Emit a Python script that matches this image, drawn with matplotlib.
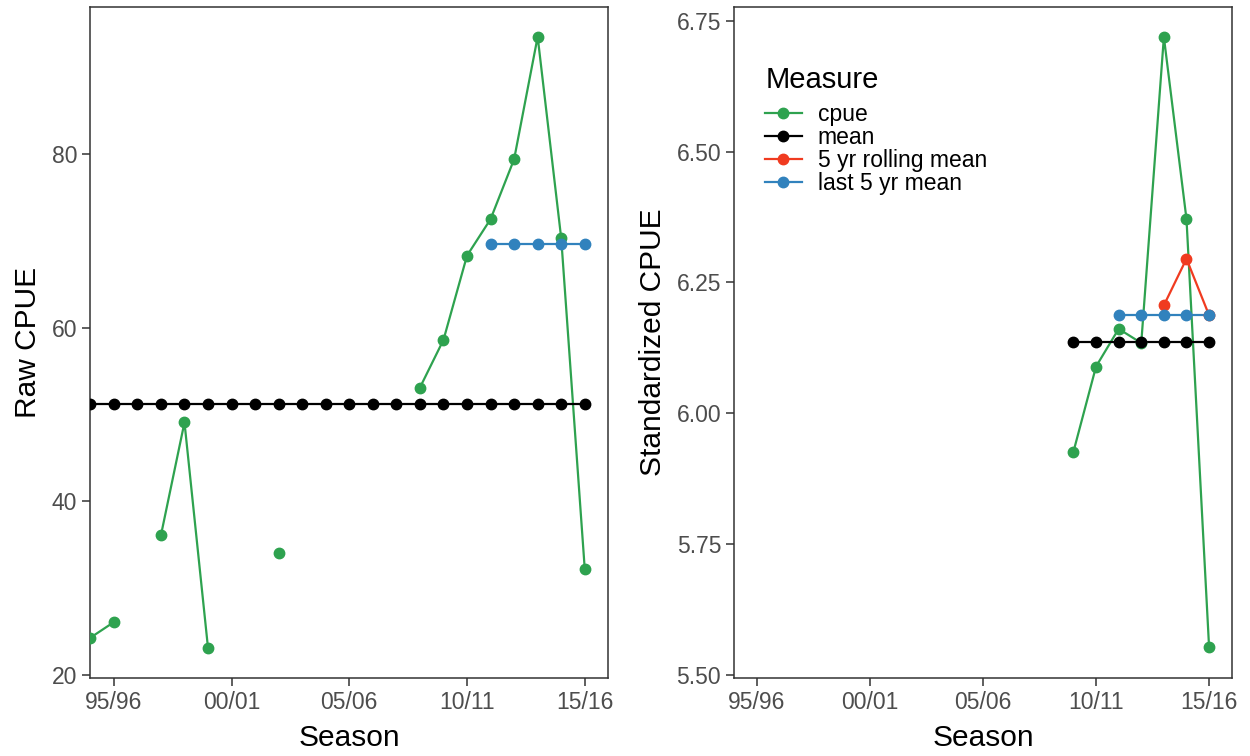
import numpy as np
import matplotlib
matplotlib.use("Agg")
import matplotlib.pyplot as plt
from matplotlib.lines import Line2D

plt.rcParams['font.family'] = ['Liberation Sans', 'DejaVu Sans']

nan = np.nan

# seasons as start year (94/95 -> 1994)
years = [1994, 1995, 1996, 1997, 1998, 1999, 2000, 2001, 2002, 2003, 2004,
         2005, 2006, 2007, 2008, 2009, 2010, 2011, 2012, 2013, 2014, 2015]
tick_years = [1995, 2000, 2005, 2010, 2015]
tick_labels = ['95/96', '00/01', '05/06', '10/11', '15/16']

# left panel: raw CPUE
raw_cpue = [24.3, 26.1, nan, 36.1, 49.1, 23.1, nan, nan, 34.1, nan, nan,
            nan, nan, nan, 53.1, 58.6, 68.3, 72.5, 79.4, 93.5, 70.3, 32.2]
raw_mean = [51.2] * len(years)
raw_last5_years = [2011, 2012, 2013, 2014, 2015]
raw_last5 = [69.6, 69.6, 69.6, 69.6, 69.6]

# right panel: standardized CPUE
std_years = [2009, 2010, 2011, 2012, 2013, 2014, 2015]
std_cpue = [5.926, 6.089, 6.161, 6.134, 6.719, 6.371, 5.552]
std_mean = [6.136] * len(std_years)
roll_years = [2013, 2014, 2015]
std_roll = [6.206, 6.295, 6.187]
last5_years = [2011, 2012, 2013, 2014, 2015]
std_last5 = [6.187, 6.187, 6.187, 6.187, 6.187]

measures = ['cpue', 'mean', '5 yr rolling mean', 'last 5 yr mean']
colors = {'cpue': '#2ea24f', 'mean': '#000000',
          '5 yr rolling mean': '#f03b20', 'last 5 yr mean': '#3182bd'}

fig = plt.figure(figsize=(12.5, 7.56), dpi=100)
ax1 = fig.add_axes([90.3 / 1250, 78.3 / 756, 518 / 1250, 671 / 756])
ax2 = fig.add_axes([734.3 / 1250, 78.3 / 756, 497.4 / 1250, 671 / 756])


def draw(ax, series):
    # lines first, then points (like ggplot layers)
    for name, x, y in series:
        ax.plot(x, y, color=colors[name], lw=1.6, zorder=2)
    for name, x, y in series:
        ax.plot(x, y, 'o', color=colors[name], ms=7.5, zorder=3)


draw(ax1, [('cpue', years, raw_cpue),
           ('mean', years, raw_mean),
           ('last 5 yr mean', raw_last5_years, raw_last5)])
draw(ax2, [('cpue', std_years, std_cpue),
           ('mean', std_years, std_mean),
           ('5 yr rolling mean', roll_years, std_roll),
           ('last 5 yr mean', last5_years, std_last5)])

ax1.set_ylim(19.7, 96.96)
ax1.set_yticks([20, 40, 60, 80])
ax2.set_ylim(5.494, 6.777)
ax2.set_yticks([5.50, 5.75, 6.00, 6.25, 6.50, 6.75])
ax2.set_yticklabels(['5.50', '5.75', '6.00', '6.25', '6.50', '6.75'])

for ax in (ax1, ax2):
    ax.set_xlim(1994, 2016)
    ax.set_xticks(tick_years)
    ax.set_xticklabels(tick_labels)
    ax.tick_params(length=5.5, width=1.1, color='#333333', labelcolor='#4d4d4d',
                   labelsize=16.5, pad=4)
    for sp in ax.spines.values():
        sp.set_color('#333333')
        sp.set_linewidth(1.1)
    ax.set_xlabel('Season', fontsize=21.5, labelpad=7)

ax1.set_ylabel('Raw CPUE', fontsize=21.5, labelpad=7)
ax2.set_ylabel('Standardized CPUE', fontsize=21.5, labelpad=7)

handles = [Line2D([0], [0], color=colors[m], lw=1.6, marker='o', ms=7.5)
           for m in measures]
leg = ax2.legend(handles, measures, title='Measure', loc='upper left',
                 bbox_to_anchor=(0.062, 0.912), frameon=False, fontsize=16.5,
                 title_fontsize=21, handlelength=1.6, handletextpad=0.7,
                 labelspacing=0.0, borderpad=0, borderaxespad=0,
                 alignment='left')
# extra gap between legend title and entries
leg._legend_box.sep = 7

fig.savefig('out.png', dpi=100)
